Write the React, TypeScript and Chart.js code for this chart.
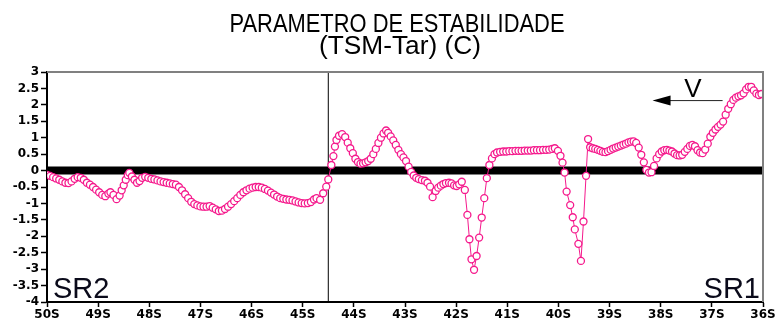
import React, { useEffect, useRef } from "react";
import { Chart, registerables } from "chart.js";

Chart.register(...registerables);

// ---- data (latitude in degrees South, stability parameter in °C) ----
const LAT_S: number[] = [
  50.0, 49.94, 49.88, 49.82, 49.76, 49.7, 49.64, 49.58, 49.52, 49.46, 49.4, 49.34, 49.28, 49.22, 49.16,
  49.1, 49.04, 48.98, 48.92, 48.86, 48.8, 48.76, 48.7, 48.64, 48.58, 48.54, 48.5, 48.46, 48.42, 48.39,
  48.34, 48.29, 48.24, 48.19, 48.14, 48.08, 48.02, 47.96, 47.9, 47.84, 47.78, 47.72, 47.66, 47.6, 47.54,
  47.48, 47.42, 47.36, 47.3, 47.24, 47.18, 47.12, 47.06, 47.0, 46.94, 46.88, 46.82, 46.76, 46.7, 46.64,
  46.58, 46.52, 46.46, 46.4, 46.34, 46.28, 46.22, 46.16, 46.1, 46.04, 45.98, 45.92, 45.86, 45.8, 45.74,
  45.68, 45.62, 45.56, 45.5, 45.44, 45.38, 45.32, 45.26, 45.2, 45.14, 45.08, 45.02, 44.96, 44.9, 44.84,
  44.78, 44.73, 44.66, 44.6, 44.54, 44.5, 44.44, 44.4,
  44.37, 44.34, 44.29, 44.23, 44.17, 44.12, 44.07, 44.02, 43.97, 43.92, 43.87, 43.82, 43.77, 43.72, 43.67,
  43.62, 43.57, 43.52, 43.47, 43.42, 43.37, 43.33, 43.28, 43.23, 43.18, 43.13, 43.08, 43.03, 42.98, 42.93,
  42.88, 42.83, 42.78, 42.73, 42.67, 42.61, 42.56, 42.51, 42.46, 42.4, 42.35, 42.3, 42.25, 42.2, 42.14,
  42.09, 42.04, 41.99, 41.94, 41.89, 41.83,
  41.78, 41.74, 41.7, 41.65, 41.6, 41.55, 41.5, 41.45, 41.4, 41.35, 41.3, 41.25, 41.2, 41.14, 41.08,
  41.02, 40.96, 40.9, 40.84, 40.78, 40.72, 40.66, 40.6, 40.54, 40.48, 40.42, 40.36, 40.3, 40.24, 40.18,
  40.12, 40.07, 40.01, 39.96, 39.92, 39.88, 39.84, 39.77, 39.72, 39.68, 39.61, 39.56, 39.51, 39.46, 39.42,
  39.38, 39.33, 39.28, 39.23, 39.18, 39.13, 39.08, 39.03, 38.98, 38.93, 38.88, 38.83, 38.78, 38.73, 38.68,
  38.63, 38.58, 38.53, 38.48, 38.43, 38.38, 38.33, 38.28, 38.23, 38.18, 38.13, 38.08, 38.03, 37.98, 37.93,
  37.88, 37.83, 37.78, 37.73, 37.68, 37.63, 37.58, 37.53, 37.48, 37.43, 37.38, 37.33, 37.28, 37.23, 37.18,
  37.13, 37.08, 37.03, 36.98, 36.93, 36.88, 36.83, 36.78, 36.73, 36.68, 36.63, 36.58, 36.53, 36.48, 36.43,
  36.38, 36.33, 36.28, 36.23, 36.18, 36.13, 36.08, 36.03,
];

const STABILITY: number[] = [
  -0.13, -0.16, -0.2, -0.24, -0.28, -0.33, -0.37, -0.38, -0.33, -0.25, -0.2, -0.22, -0.28, -0.37, -0.43,
  -0.5, -0.58, -0.66, -0.74, -0.78, -0.7, -0.66, -0.74, -0.87, -0.76, -0.6, -0.45, -0.28, -0.14, -0.07,
  -0.18, -0.28, -0.37, -0.32, -0.22, -0.19, -0.22, -0.25, -0.27, -0.3, -0.33, -0.35, -0.37, -0.39, -0.41,
  -0.43, -0.5, -0.6, -0.72, -0.84, -0.95, -1.02, -1.06, -1.09, -1.1, -1.1, -1.08, -1.13, -1.18, -1.23,
  -1.22, -1.17, -1.1, -1.02, -0.93, -0.84, -0.74, -0.66, -0.6, -0.55, -0.52, -0.5, -0.5, -0.52, -0.56,
  -0.61, -0.67, -0.73, -0.79, -0.84, -0.86, -0.88, -0.89, -0.91, -0.94, -0.97, -0.99, -1.0, -0.99, -0.96,
  -0.88, -0.84, -0.89, -0.69, -0.49, -0.27, 0.17, 0.44,
  0.73, 0.93, 1.06, 1.11, 1.02, 0.85, 0.68, 0.53, 0.36, 0.26, 0.21, 0.22, 0.25, 0.29, 0.36,
  0.5, 0.66, 0.84, 1.0, 1.13, 1.22, 1.15, 1.04, 0.92, 0.78, 0.63, 0.5, 0.4, 0.29, 0.12,
  -0.04, -0.15, -0.22, -0.26, -0.29, -0.31, -0.37, -0.49, -0.81, -0.62, -0.52, -0.46, -0.41, -0.38, -0.37,
  -0.39, -0.45, -0.47, -0.42, -0.34, -0.59,
  -1.35, -2.09, -2.7, -3.02, -2.6, -2.04, -1.43, -0.84, -0.23, 0.17, 0.37, 0.5, 0.55, 0.57, 0.58,
  0.58, 0.59, 0.59, 0.6, 0.6, 0.6, 0.61, 0.61, 0.61, 0.62, 0.62, 0.62, 0.63, 0.63, 0.64,
  0.66, 0.68, 0.6, 0.45, 0.24, -0.06, -0.64, -1.05, -1.42, -1.79, -2.23, -2.75, -1.55, -0.16, 0.96,
  0.71, 0.68, 0.66, 0.63, 0.6, 0.57, 0.56, 0.59, 0.63, 0.67, 0.7, 0.73, 0.76, 0.79, 0.82,
  0.86, 0.88, 0.89, 0.84, 0.7, 0.48, 0.25, 0.02, -0.06, -0.05, 0.14, 0.37, 0.5, 0.58, 0.62,
  0.63, 0.61, 0.58, 0.52, 0.47, 0.46, 0.48, 0.57, 0.66, 0.75, 0.78, 0.74, 0.62, 0.55, 0.53,
  0.64, 0.82, 1.03, 1.15, 1.25, 1.33, 1.4, 1.49, 1.7, 1.88, 2.02, 2.15, 2.22, 2.26, 2.29,
  2.35, 2.47, 2.55, 2.55, 2.44, 2.34, 2.3, 2.33,
];

const LAT_RANGE_S: number[] = [50, 36];
const Y_RANGE: number[] = [-4, 3];
const Y_STEP = 0.5;
const ZERO_LINE_LAT_S: number[] = [50, 36];
const DIVIDER_LAT_S = 44.5;

const TITLE_LINES: string[] = ["PARAMETRO DE ESTABILIDADE", "(TSM-Tar) (C)"];
const LEFT_LABEL = "SR2";
const RIGHT_LABEL = "SR1";
const WIND_LABEL = "V";
// wind arrow annotation, in data coordinates (lat S, value)
const WIND_ARROW_FROM_S = 36.79;
const WIND_ARROW_TO_S = 38.16;
const WIND_ARROW_Y = 2.13;
const WIND_LABEL_LAT_S = 37.37;
const WIND_LABEL_Y = 2.25;

const PINK = "rgb(245, 25, 140)";

function drawFitted(ctx: CanvasRenderingContext2D, text: string, cx: number, baseline: number, targetW: number, font: string) {
  ctx.font = font;
  const w = ctx.measureText(text).width;
  const s = w > 0 ? targetW / w : 1;
  ctx.save();
  ctx.translate(cx, baseline);
  ctx.scale(s, 1);
  ctx.textAlign = "center";
  ctx.textBaseline = "alphabetic";
  ctx.fillStyle = "#000";
  ctx.fillText(text, 0, 0);
  ctx.restore();
}

const decorPlugin = {
  id: "decor",
  afterDraw(chart: any) {
    const { ctx, chartArea: ca, scales } = chart;
    const xs = scales.x;
    const ys = scales.y;
    ctx.save();
    // top & right frame
    ctx.strokeStyle = "#808080";
    ctx.lineWidth = 2;
    ctx.beginPath();
    ctx.moveTo(ca.left, ca.top);
    ctx.lineTo(ca.right, ca.top);
    ctx.lineTo(ca.right, ca.bottom);
    ctx.stroke();

    // title
    const cx = (ca.left + ca.right) / 2 - 8;
    drawFitted(ctx, TITLE_LINES[0], cx, 32, 335, '26px "Liberation Sans Narrow", "Liberation Sans", sans-serif');
    drawFitted(ctx, TITLE_LINES[1], cx + 3, 54, 162, '26px "Liberation Sans Narrow", "Liberation Sans", sans-serif');

    // region labels
    ctx.fillStyle = "#0a0a1a";
    ctx.font = '29px "Liberation Sans", Arial, sans-serif';
    ctx.textBaseline = "alphabetic";
    ctx.textAlign = "left";
    ctx.fillText(LEFT_LABEL, ca.left + 6, ca.bottom - 4);
    ctx.textAlign = "right";
    ctx.fillText(RIGHT_LABEL, ca.right - 3, ca.bottom - 4);

    // wind arrow
    const x0 = xs.getPixelForValue(-WIND_ARROW_FROM_S);
    const x1 = xs.getPixelForValue(-WIND_ARROW_TO_S);
    const ya = ys.getPixelForValue(WIND_ARROW_Y);
    ctx.strokeStyle = "#222";
    ctx.lineWidth = 1;
    ctx.beginPath();
    ctx.moveTo(x0, ya);
    ctx.lineTo(x1 + 16, ya);
    ctx.stroke();
    ctx.fillStyle = "#000";
    ctx.beginPath();
    ctx.moveTo(x1, ya);
    ctx.lineTo(x1 + 18, ya - 5);
    ctx.lineTo(x1 + 18, ya + 5);
    ctx.closePath();
    ctx.fill();
    ctx.font = '26px "Liberation Sans", Arial, sans-serif';
    ctx.textAlign = "center";
    ctx.fillText(WIND_LABEL, xs.getPixelForValue(-WIND_LABEL_LAT_S), ys.getPixelForValue(WIND_LABEL_Y));
    ctx.restore();
  },
};

export default function App() {
  const canvasRef = useRef<HTMLCanvasElement | null>(null);

  useEffect(() => {
    document.body.style.margin = "0";
    const canvas = canvasRef.current;
    if (!canvas) return;
    const n = Math.min(LAT_S.length, STABILITY.length);
    const points = [];
    for (let i = 0; i < n; i++) points.push({ x: -LAT_S[i], y: STABILITY[i] });

    const tickFont = { family: '"DejaVu Sans", sans-serif', weight: "bold" as const, size: 12 };

    const chart = new Chart(canvas, {
      type: "line",
      data: {
        datasets: [
          {
            label: "TSM-Tar",
            data: points,
            borderColor: PINK,
            backgroundColor: "#fff",
            borderWidth: 1,
            pointRadius: 3.5,
            pointBorderWidth: 1.3,
            pointBackgroundColor: "#fff",
            pointBorderColor: PINK,
            tension: 0,
          },
          {
            label: "divider",
            data: [
              { x: -DIVIDER_LAT_S, y: Y_RANGE[0] },
              { x: -DIVIDER_LAT_S, y: Y_RANGE[1] },
            ],
            borderColor: "#000",
            borderWidth: 1,
            pointRadius: 0,
          },
          {
            label: "zero",
            data: ZERO_LINE_LAT_S.map((l) => ({ x: -l, y: 0 })),
            borderColor: "#000",
            borderWidth: 8,
            pointRadius: 0,
          },
        ],
      },
      options: {
        animation: false,
        responsive: false,
        devicePixelRatio: 1,
        layout: { padding: { top: 72, right: 15, left: 0, bottom: 0 } },
        plugins: { legend: { display: false }, tooltip: { enabled: false } },
        scales: {
          x: {
            type: "linear",
            min: -LAT_RANGE_S[0],
            max: -LAT_RANGE_S[1],
            afterFit: (s: any) => {
              s.height = 22;
            },
            grid: { drawOnChartArea: false, drawTicks: true, tickLength: 5, color: "#000", tickWidth: 1.5 },
            border: { display: true, color: "#000", width: 2 },
            ticks: {
              stepSize: 1,
              padding: 1,
              color: "#000",
              font: tickFont,
              maxRotation: 0,
              autoSkip: false,
              callback: (v: any) => `${Math.round(-Number(v))}S`,
            },
          },
          y: {
            type: "linear",
            min: Y_RANGE[0],
            max: Y_RANGE[1],
            afterFit: (s: any) => {
              s.width = 47;
            },
            grid: { drawOnChartArea: false, drawTicks: true, tickLength: 6, color: "#000", tickWidth: 1.5 },
            border: { display: true, color: "#000", width: 2 },
            ticks: {
              stepSize: Y_STEP,
              padding: 2,
              color: "#000",
              font: tickFont,
              autoSkip: false,
              callback: (v: any) => {
                const n = Number(v);
                return Number.isInteger(n) ? String(n) : n.toFixed(1);
              },
            },
          },
        },
      },
      plugins: [decorPlugin],
    } as any);

    return () => chart.destroy();
  }, []);

  return (
    <div style={{ position: "fixed", left: 0, top: 0, width: 778, height: 324, background: "#fff" }}>
      <canvas ref={canvasRef} width={778} height={324} />
    </div>
  );
}
